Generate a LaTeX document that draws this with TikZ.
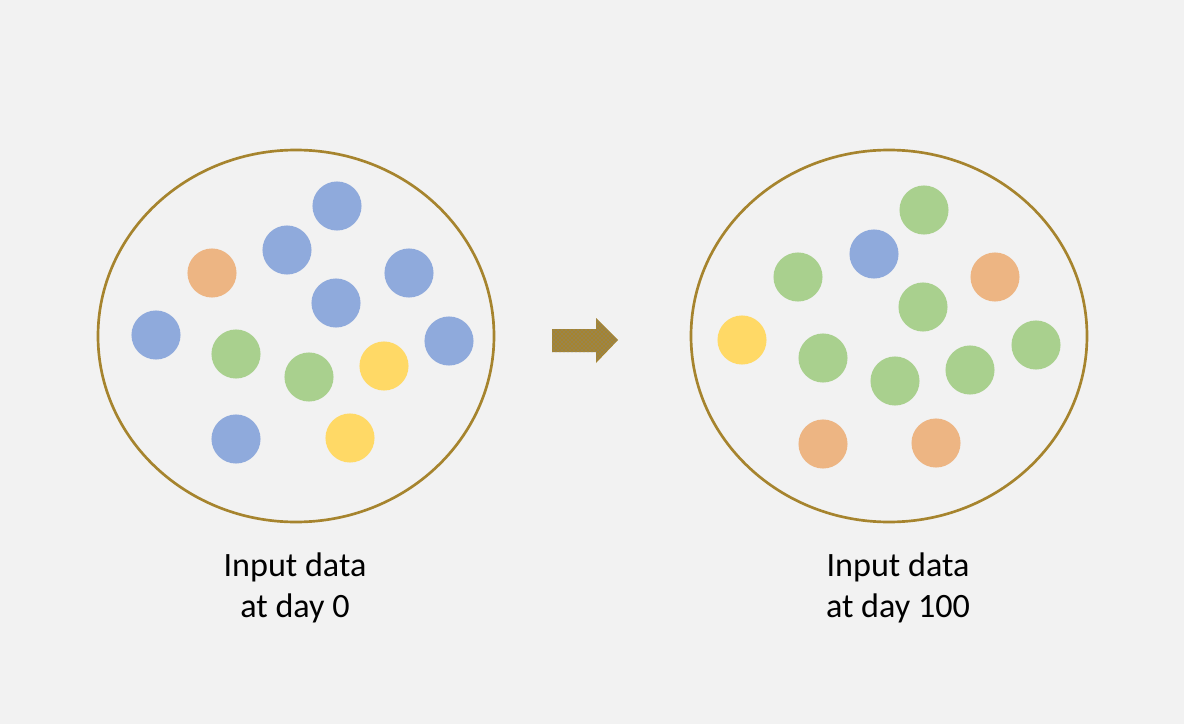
\documentclass[tikz,border=0pt]{standalone}
\usepackage{fontspec}
\setmainfont{Carlito}
\usepackage{tikz}
\usetikzlibrary{shapes,positioning,patterns}

\definecolor{bgGray}{HTML}{F2F2F2}
\definecolor{ringGold}{RGB}{166,132,46}
\definecolor{dotBlue}{HTML}{8FAADC}
\definecolor{dotOrange}{HTML}{EDB583}
\definecolor{dotGreen}{HTML}{A9D08E}
\definecolor{dotYellow}{HTML}{FFD966}

\tikzset{
  pool/.style={draw=ringGold, line width=2pt, ellipse, inner sep=0pt},
  dot/.style={circle, fill=#1, inner sep=0pt, minimum size=36.8pt},
  caption/.style={align=center, font=\fontsize{25.6}{30.5}\selectfont, text=black}
}

\begin{document}
\begin{tikzpicture}[x=0.75pt,y=-0.75pt]
        \fill[bgGray] (0,0) rectangle (1184,724);
        \useasboundingbox (0,0) rectangle (1184,724);

        \node[pool, minimum width=297pt, minimum height=279pt] (day0) at (296,336) {};
        \node[pool, minimum width=297pt, minimum height=279pt] (day100) at (889,336) {};

        \foreach \x/\y/\c [count=\i] in {337/206/dotBlue, 287/250/dotBlue, 212/273/dotOrange, 409/273/dotBlue,
                336/303/dotBlue, 156/335/dotBlue, 449/341/dotBlue, 236/354/dotGreen, 309/377/dotGreen,
                384/366/dotYellow, 236/439/dotBlue, 350/438/dotYellow}
            \node[dot=\c] (a\i) at (\x,\y) {};

        \foreach \x/\y/\c [count=\i] in {924/210/dotGreen, 874/254/dotBlue, 798/277/dotGreen, 995/277/dotOrange,
                923/307/dotGreen, 742/340/dotYellow, 1036/345/dotGreen, 823/358/dotGreen, 895/381/dotGreen,
                970/370/dotGreen, 823/444/dotOrange, 936/443/dotOrange}
            \node[dot=\c] (b\i) at (\x,\y) {};

        \fill[ringGold] (552,329) -- (596,329) -- (596,318) -- (618,340) -- (596,363) -- (596,352) -- (552,352) -- cycle;
        \fill[pattern=crosshatch dots, pattern color=dotBlue!80!black] (552,329) -- (596,329) -- (596,318) -- (618,340) -- (596,363) -- (596,352) -- (552,352) -- cycle;

        \node[caption] (lbl0) at (295,588) {Input data\\at day 0};
        \node[caption] (lbl100) at (898,588) {Input data\\at day 100};
    \end{tikzpicture}
\end{document}
